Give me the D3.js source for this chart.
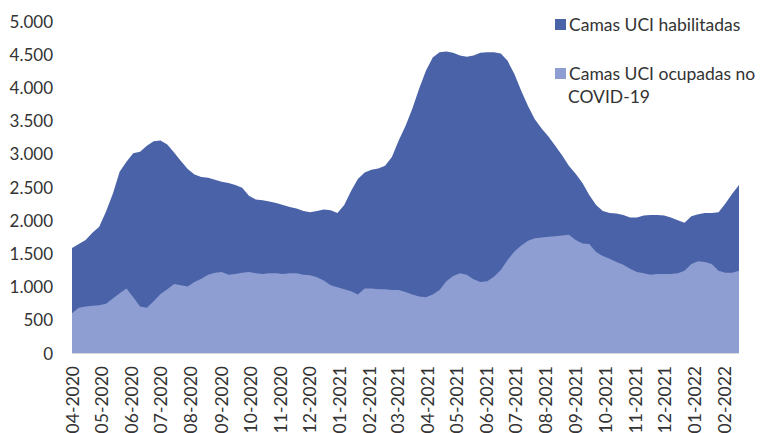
<!DOCTYPE html>
<html lang="es">
<head>
    <meta charset="UTF-8"/>
    <title>Camas UCI</title>
    <script src="https://d3js.org/d3.v7.min.js"></script>
    <style>
        html, body {
            margin: 0;
            padding: 0;
            background: #fff;
        }
        svg text {
            font-family: Lato, "Open Sans", sans-serif;
            fill: #333;
        }
    </style>
</head>
<body>
    <div id="chart"></div>
    <script>
        var w = 760;
        var h = 433;

        // weekly readings, first one on 1 April 2020
        var startDate = "2020-04-01";

        var habilitadas = [
            1580, 1640, 1700, 1810, 1900, 2130, 2400, 2730, 2880, 3010,
            3030, 3120, 3190, 3200, 3140, 3020, 2890, 2770, 2690, 2650,
            2640, 2610, 2580, 2560, 2530, 2490, 2370, 2310, 2300, 2280,
            2260, 2230, 2200, 2175, 2140, 2120, 2140, 2160, 2150, 2110,
            2230, 2440, 2620, 2720, 2760, 2780, 2820, 2950, 3200, 3420,
            3680, 3980, 4250, 4450, 4530, 4540, 4520, 4480, 4460, 4480,
            4520, 4530, 4530, 4510, 4400, 4200, 3950, 3720, 3520, 3380,
            3260, 3120, 2980, 2820, 2700, 2560, 2380, 2230, 2140, 2110,
            2100, 2080, 2040, 2040, 2070, 2080, 2080, 2070, 2040, 2000,
            1960, 2060, 2090, 2110, 2110, 2120, 2250, 2400, 2530
        ];

        var ocupadasNoCovid = [
            600, 680, 700, 710, 720, 740, 820, 900, 970, 840,
            700, 680, 780, 890, 960, 1040, 1020, 1000, 1070, 1120,
            1180, 1210, 1220, 1180, 1190, 1210, 1220, 1200, 1190, 1200,
            1200, 1190, 1200, 1200, 1180, 1170, 1140, 1090, 1020, 990,
            960, 930, 880, 970, 970, 960, 960, 950, 950, 920,
            880, 850, 840, 880, 950, 1080, 1160, 1200, 1180, 1110,
            1070, 1080, 1150, 1250, 1400, 1530, 1620, 1690, 1730, 1740,
            1750, 1760, 1770, 1780, 1700, 1650, 1640, 1520, 1460, 1420,
            1370, 1330, 1270, 1220, 1200, 1180, 1190, 1190, 1190, 1200,
            1240, 1340, 1380, 1370, 1340, 1240, 1210, 1210, 1240
        ];

        var yTicks = [0, 500, 1000, 1500, 2000, 2500, 3000, 3500, 4000, 4500, 5000];

        var monthLabels = [
            "04-2020", "05-2020", "06-2020", "07-2020", "08-2020", "09-2020",
            "10-2020", "11-2020", "12-2020", "01-2021", "02-2021", "03-2021",
            "04-2021", "05-2021", "06-2021", "07-2021", "08-2021", "09-2021",
            "10-2021", "11-2021", "12-2021", "01-2022", "02-2022"
        ];

        var seriesNames = ["Camas UCI habilitadas", "Camas UCI ocupadas no COVID-19"];
        var colors = ["#4a62a8", "#8e9ed2"];

        var parseDay = d3.timeParse("%Y-%m-%d");
        var parseMonth = d3.timeParse("%m-%Y");
        var start = parseDay(startDate);

        var data = habilitadas.map(function(v, i) {
            return {
                date: d3.timeDay.offset(start, i * 7),
                hab: v,
                ocu: ocupadasNoCovid[i]
            };
        });

        var x = d3.scaleTime()
            .domain([data[0].date, data[data.length - 1].date])
            .range([72, 739]);

        var y = d3.scaleLinear()
            .domain([0, 5000])
            .range([353, 21]);

        var svg = d3.select("#chart")
            .append("svg")
            .attr("width", w)
            .attr("height", h);

        var areaHab = d3.area()
            .x(function(d) { return x(d.date); })
            .y0(y(0))
            .y1(function(d) { return y(d.hab); });

        var areaOcu = d3.area()
            .x(function(d) { return x(d.date); })
            .y0(y(0))
            .y1(function(d) { return y(d.ocu); });

        svg.append("path")
            .datum(data)
            .attr("fill", colors[0])
            .attr("d", areaHab);

        svg.append("path")
            .datum(data)
            .attr("fill", colors[1])
            .attr("d", areaOcu);

        // y axis
        var yAxis = d3.axisLeft(y)
            .tickValues(yTicks)
            .tickSize(0)
            .tickPadding(0)
            .tickFormat(function(d) { return d3.format(",")(d).replace(/,/g, "."); });

        var gy = svg.append("g")
            .attr("transform", "translate(53,0)")
            .call(yAxis);
        gy.select(".domain").remove();
        gy.selectAll("text")
            .attr("font-size", 17)
            .attr("dy", "0.36em");

        // x axis, labels turned to read upwards
        var xAxis = d3.axisBottom(x)
            .tickValues(monthLabels.map(function(m) { return parseMonth(m); }))
            .tickSize(0)
            .tickFormat(d3.timeFormat("%m-%Y"));

        var gx = svg.append("g")
            .attr("transform", "translate(0," + y(0) + ")")
            .call(xAxis);
        gx.select(".domain")
            .attr("stroke", "#d9d9d9")
            .attr("d", "M72,0.5H739");
        gx.selectAll("text")
            .attr("font-size", 17.5)
            .attr("text-anchor", "end")
            .attr("transform", "rotate(-90)")
            .attr("x", -13)
            .attr("y", 0)
            .attr("dy", "0.36em");

        // legend
        var legend = svg.append("g");
        var legendRows = [
            { lines: ["Camas UCI habilitadas"], y: 25 },
            { lines: ["Camas UCI ocupadas no", "COVID-19"], y: 74 }
        ];
        legendRows.forEach(function(r, i) {
            legend.append("rect")
                .attr("x", 555)
                .attr("y", r.y - 6)
                .attr("width", 11)
                .attr("height", 11)
                .attr("fill", colors[i]);
            var t = legend.append("text")
                .attr("x", 569)
                .attr("y", r.y)
                .attr("font-size", 17.5);
            r.lines.forEach(function(line, j) {
                t.append("tspan")
                    .attr("x", j === 0 ? 569 : 568)
                    .attr("dy", j === 0 ? "0.36em" : "1.3em")
                    .text(line);
            });
        });
    </script>
</body>
</html>
